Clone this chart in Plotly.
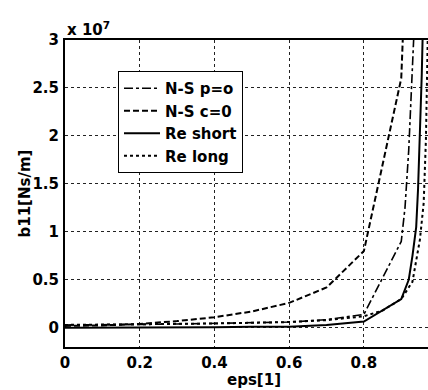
import plotly.graph_objects as go

# ---- data (b11 in units of 1e7 Ns/m) ----
eps_ns_p = [0.0, 0.1, 0.2, 0.3, 0.4, 0.5, 0.6, 0.7, 0.8, 0.9, 0.91, 0.92, 0.93, 0.94]
b11_ns_p = [0.03, 0.03, 0.035, 0.04, 0.045, 0.05, 0.06, 0.085, 0.14, 0.9, 1.25, 1.85, 2.65, 3.6]

eps_ns_c = [0.0, 0.1, 0.2, 0.3, 0.4, 0.5, 0.6, 0.7, 0.8, 0.9, 0.95]
b11_ns_c = [0.02, 0.025, 0.04, 0.07, 0.11, 0.17, 0.26, 0.42, 0.8, 2.6, 7.6]

eps_re_s = [0.0, 0.1, 0.2, 0.3, 0.4, 0.5, 0.6, 0.7, 0.8, 0.9, 0.92, 0.93, 0.94, 0.945, 0.95, 0.955, 0.96]
b11_re_s = [0.0, 0.0, 0.0, 0.005, 0.005, 0.01, 0.01, 0.03, 0.065, 0.30, 0.5, 0.75, 1.05, 1.45, 1.95, 2.65, 3.5]

eps_re_l = [0.0, 0.2, 0.4, 0.6, 0.7, 0.8, 0.85, 0.9, 0.93, 0.95, 0.96, 0.966, 0.97, 0.98]
b11_re_l = [0.03, 0.035, 0.045, 0.06, 0.08, 0.12, 0.18, 0.3, 0.48, 0.92, 1.3, 1.96, 2.8, 5.0]

names = ["N-S p=o", "N-S c=0", "Re short", "Re long"]
x_ticks = [0, 0.2, 0.4, 0.6, 0.8]
x_tick_text = ["0", "0.2", "0.4", "0.6", "0.8"]
y_ticks = [0, 0.5, 1, 1.5, 2, 2.5, 3]
y_tick_text = ["0", "0.5", "1", "1.5", "2", "2.5", "3"]

FONT = "DejaVu Sans, Liberation Sans, Arial"

fig = go.Figure()
fig.add_trace(go.Scatter(x=eps_ns_p, y=b11_ns_p, mode="lines", name=names[0],
                         line=dict(color="black", width=1.6, dash="dashdot")))
fig.add_trace(go.Scatter(x=eps_ns_c, y=b11_ns_c, mode="lines", name=names[1],
                         line=dict(color="black", width=2, dash="6px,3px")))
fig.add_trace(go.Scatter(x=eps_re_s, y=b11_re_s, mode="lines", name=names[2],
                         line=dict(color="black", width=2)))
fig.add_trace(go.Scatter(x=eps_re_l, y=b11_re_l, mode="lines", name=names[3],
                         line=dict(color="black", width=2, dash="dot")))

fig.update_layout(
    width=428, height=390,
    margin=dict(l=65, r=0, t=40, b=43),
    paper_bgcolor="white", plot_bgcolor="white",
    font=dict(family=FONT, size=15, color="black", weight="bold"),
    showlegend=True,
    legend=dict(x=0.146, y=0.899, xanchor="left", yanchor="top",
                bgcolor="white", bordercolor="black", borderwidth=1,
                font=dict(size=15, family=FONT, weight="bold"),
                itemwidth=36, tracegroupgap=0),
    xaxis=dict(range=[0, 0.9716], tickvals=x_ticks, ticktext=x_tick_text,
               showgrid=True, gridcolor="#222222", gridwidth=1, griddash="dot",
               zeroline=False, showline=True, linecolor="black", linewidth=2,
               mirror=True, ticks="", ticklabelstandoff=1),
    yaxis=dict(range=[-0.2, 3], tickvals=y_ticks, ticktext=y_tick_text,
               showgrid=True, gridcolor="#222222", gridwidth=1, griddash="dot",
               zeroline=False, showline=True, linecolor="black", linewidth=2,
               ticks="", ticklabelstandoff=1),
    annotations=[
        dict(text="x 10<sup>7</sup>", xref="paper", yref="paper", x=0.0, y=1.0,
             xanchor="left", yanchor="bottom", yshift=-1, showarrow=False,
             font=dict(size=15, family=FONT, weight="bold")),
        dict(text="eps[1]", xref="x", yref="paper", x=0.505, y=0, yshift=-22,
             xanchor="center", yanchor="top", showarrow=False,
             font=dict(size=15, family=FONT, weight="bold")),
        dict(text="b11[Ns/m]", xref="paper", yref="paper", x=0, xshift=-30,
             y=0.5, xanchor="right", yanchor="middle", textangle=-90, showarrow=False,
             font=dict(size=15, family=FONT, weight="bold")),
    ],
)

fig.write_html("out.html")
